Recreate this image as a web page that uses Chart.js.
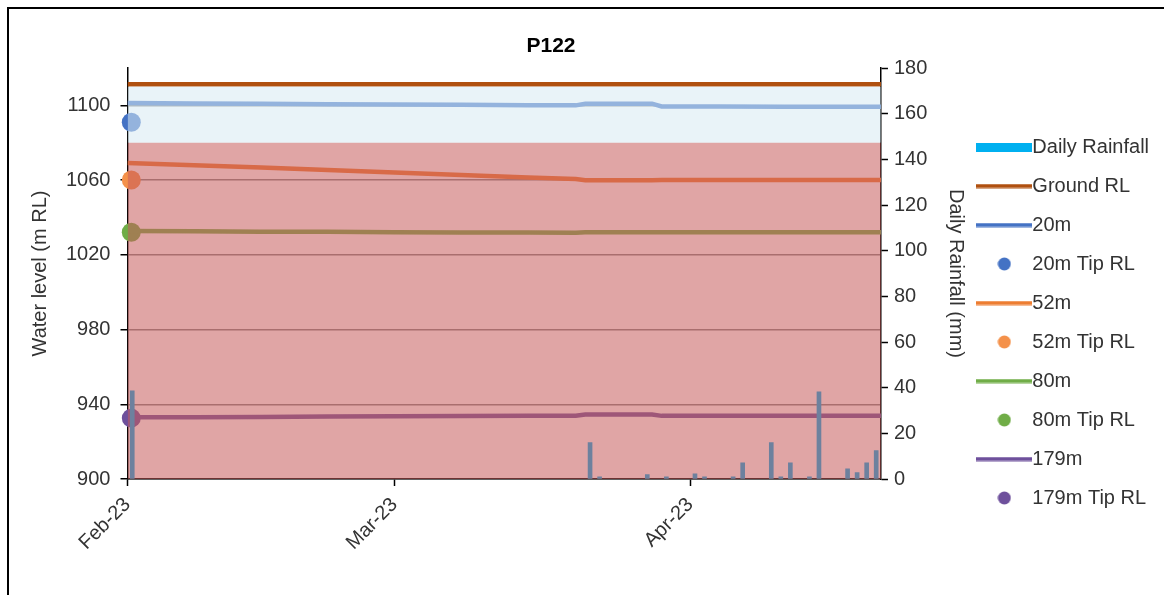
<!DOCTYPE html>
<html>
<head>
<meta charset="utf-8">
<script src="https://cdn.jsdelivr.net/npm/chart.js@4.4.1/dist/chart.umd.min.js"></script>
<style>
	html, body { margin: 0; padding: 0; background: #fff; overflow: hidden; }
	#frame { position: absolute; left: 7px; top: 7px; width: 1180px; height: 600px; border-left: 2px solid #000; border-top: 2px solid #000; }
	#wrap { position: absolute; left: 9px; top: 9px; width: 1155px; height: 586px; }
	#title { position: absolute; left: 451px; top: 33px; width: 200px; text-align: center; font: bold 21px "Liberation Sans", Arial, sans-serif; line-height: 24px; color: #000; }
</style>
</head>
<body>
<div id="frame"></div>
<div id="wrap"><canvas id="chart"></canvas></div>
<div id="title">P122</div>
<script>
// x axis is days since 1 Feb 2023
const xTickDays = [0, 28, 59];
const xTickLabels = ['Feb-23', 'Mar-23', 'Apr-23'];
const levelTicks = [900, 940, 980, 1020, 1060, 1100];

const lineDays = [0, 7, 14, 21, 28, 35, 42, 47, 48, 55, 56, 62, 69, 76, 79];
const level20m = [1101.2, 1101.0, 1100.8, 1100.6, 1100.4, 1100.3, 1100.1, 1100.0, 1100.9, 1100.9, 1099.4, 1099.4, 1099.3, 1099.3, 1099.3];
const level52m = [1069.2, 1068.0, 1066.8, 1065.4, 1064.0, 1062.7, 1061.4, 1060.6, 1059.9, 1059.9, 1060.0, 1060.1, 1060.1, 1060.1, 1060.1];
const level80m = [1032.8, 1032.6, 1032.4, 1032.3, 1032.1, 1032.0, 1031.9, 1031.8, 1032.1, 1032.1, 1032.1, 1032.1, 1032.1, 1032.1, 1032.1];
const level179m = [933.0, 933.1, 933.2, 933.4, 933.6, 933.7, 933.8, 933.9, 934.5, 934.5, 933.8, 933.8, 933.8, 933.8, 933.8];

const groundDays = [0, 79];
const groundRL = [1111.3, 1111.3];

const tipDay = 0.4;
const tipRL20m = 1091.0;
const tipRL52m = 1060.0;
const tipRL80m = 1032.1;
const tipRL179m = 932.6;

const rainDays = [0, 48, 49, 54, 56, 59, 60, 63, 64, 67, 68, 69, 71, 72, 75, 76, 77, 78];
const rainfall = [38.6, 15.9, 1.0, 1.9, 1.0, 2.3, 0.9, 1.0, 7.1, 15.9, 1.0, 7.1, 1.0, 38.2, 4.5, 2.8, 7.1, 12.4];

// shaded level zones
const zoneDays = [0, 79];
const zoneRedTop = [1080, 1080];
const zoneBlueTop = [1110, 1110];

const FONT = '"Liberation Sans", Arial, sans-serif';
const TEXT = '#333';

function pts(xs, ys) {
	return xs.map((x, i) => ({ x, y: ys[i] }));
}

function marker(kind, color) {
	const c = document.createElement('canvas');
	const g = c.getContext('2d');
	if (kind === 'rect') {
		c.width = 56; c.height = 9;
		g.fillStyle = color;
		g.fillRect(0, 0, 56, 9);
	} else if (kind === 'line') {
		c.width = 56; c.height = 5;
		g.fillStyle = color;
		g.fillRect(0, 0.5, 56, 4);
	} else {
		c.width = 14; c.height = 14;
		g.fillStyle = color;
		g.beginPath();
		g.arc(7, 7, 6.5, 0, Math.PI * 2);
		g.fill();
	}
	return c;
}

const C_RAIN = '#00b0f0';
const C_GROUND = '#b0500f';
const C_20 = '#4472c4';
const C_52 = '#ed7d31';
const C_52TIP = '#f4914a';
const C_80 = '#70ad47';
const C_179 = '#6e509c';

function levelLine(label, days, vals, color, order) {
	return {
		type: 'line', label, data: pts(days, vals), order,
		borderColor: color, backgroundColor: color, borderWidth: 4.5,
		pointRadius: 0, tension: 0, yAxisID: 'y',
		legendMark: marker('line', color),
	};
}

function tipPoint(label, val, color, order) {
	return {
		type: 'line', label, data: [{ x: tipDay, y: val }], order,
		showLine: false, pointRadius: 9.5, pointHoverRadius: 9.5,
		pointBackgroundColor: color, pointBorderWidth: 0, borderColor: color,
		backgroundColor: color, yAxisID: 'y', clip: false,
		legendMark: marker('dot', color),
	};
}

const datasets = [
	{
		type: 'line', label: 'zoneRed', data: pts(zoneDays, zoneRedTop), order: 0,
		borderWidth: 0, pointRadius: 0, fill: 'start',
		backgroundColor: 'rgba(199,91,91,0.55)', yAxisID: 'y',
	},
	{
		type: 'line', label: 'zoneBlue', data: pts(zoneDays, zoneBlueTop), order: 0,
		borderWidth: 0, pointRadius: 0, fill: { value: 1080 },
		backgroundColor: 'rgba(215,233,243,0.55)', yAxisID: 'y',
	},
	{
		type: 'bar', label: 'Daily Rainfall', order: 1,
		data: pts(rainDays.map((d) => d + 0.5), rainfall),
		backgroundColor: C_RAIN, barThickness: 4, yAxisID: 'y2',
		legendMark: marker('rect', C_RAIN),
	},
	levelLine('Ground RL', groundDays, groundRL, C_GROUND, 2),
	levelLine('20m', lineDays, level20m, C_20, 3),
	tipPoint('20m Tip RL', tipRL20m, C_20, 4),
	levelLine('52m', lineDays, level52m, C_52, 5),
	tipPoint('52m Tip RL', tipRL52m, C_52TIP, 6),
	levelLine('80m', lineDays, level80m, C_80, 7),
	tipPoint('80m Tip RL', tipRL80m, C_80, 8),
	levelLine('179m', lineDays, level179m, C_179, 9),
	tipPoint('179m Tip RL', tipRL179m, C_179, 10),
];

new Chart(document.getElementById('chart'), {
	type: 'line',
	data: { datasets },
	options: {
		responsive: true,
		maintainAspectRatio: false,
		animation: false,
		events: [],
		layout: { padding: { left: 15, right: 8, top: 59, bottom: 18 } },
		scales: {
			x: {
				type: 'linear', min: 0, max: 79, offset: false,
				afterBuildTicks: (s) => { s.ticks = xTickDays.map((v) => ({ value: v })); },
				afterFit: (s) => { s.height = 98; },
				ticks: {
					autoSkip: false, minRotation: 45, maxRotation: 45, padding: 7,
					color: TEXT, font: { family: FONT, size: 20 },
					callback: (v) => xTickLabels[xTickDays.indexOf(v)],
				},
				grid: { offset: false, drawOnChartArea: false, tickLength: 7, tickColor: '#000', tickWidth: 1.5 },
				border: { color: '#000', width: 1.5 },
			},
			y: {
				position: 'left', min: 900, max: 1120,
				afterBuildTicks: (s) => { s.ticks = levelTicks.map((v) => ({ value: v })); },
				ticks: { padding: 10, color: TEXT, font: { family: FONT, size: 20 }, callback: (v) => String(v) },
				grid: { color: '#868686', lineWidth: 1.5, tickLength: 7, tickColor: '#000', tickWidth: 1.5 },
				border: { color: '#000', width: 1.5 },
				title: {
					display: true, text: 'Water level (m RL)', color: TEXT,
					font: { family: FONT, size: 20 }, padding: { top: 4, bottom: 4 },
				},
			},
			y2: {
				position: 'right', min: 0, max: 180,
				ticks: { stepSize: 20, padding: 6, color: TEXT, font: { family: FONT, size: 20 } },
				grid: { drawOnChartArea: false, tickLength: 7, tickColor: '#000', tickWidth: 1.5 },
				border: { color: '#000', width: 1.5 },
				title: {
					display: true, text: 'Daily Rainfall (mm)', color: TEXT,
					font: { family: FONT, size: 20 }, padding: { top: 0, bottom: 10 },
				},
			},
		},
		plugins: {
			title: { display: false },
			tooltip: { enabled: false },
			legend: {
				position: 'right',
				labels: {
					usePointStyle: true,
					pointStyleWidth: 36,
					padding: 19,
					color: TEXT,
					font: { family: FONT, size: 20 },
					filter: (item, data) => !!data.datasets[item.datasetIndex].legendMark,
					generateLabels: (chart) => {
						const items = Chart.defaults.plugins.legend.labels.generateLabels(chart);
						return items.map((it) => {
							const mark = chart.data.datasets[it.datasetIndex].legendMark;
							if (mark) it.pointStyle = mark;
							return it;
						});
					},
				},
			},
		},
	},
});
</script>
</body>
</html>
